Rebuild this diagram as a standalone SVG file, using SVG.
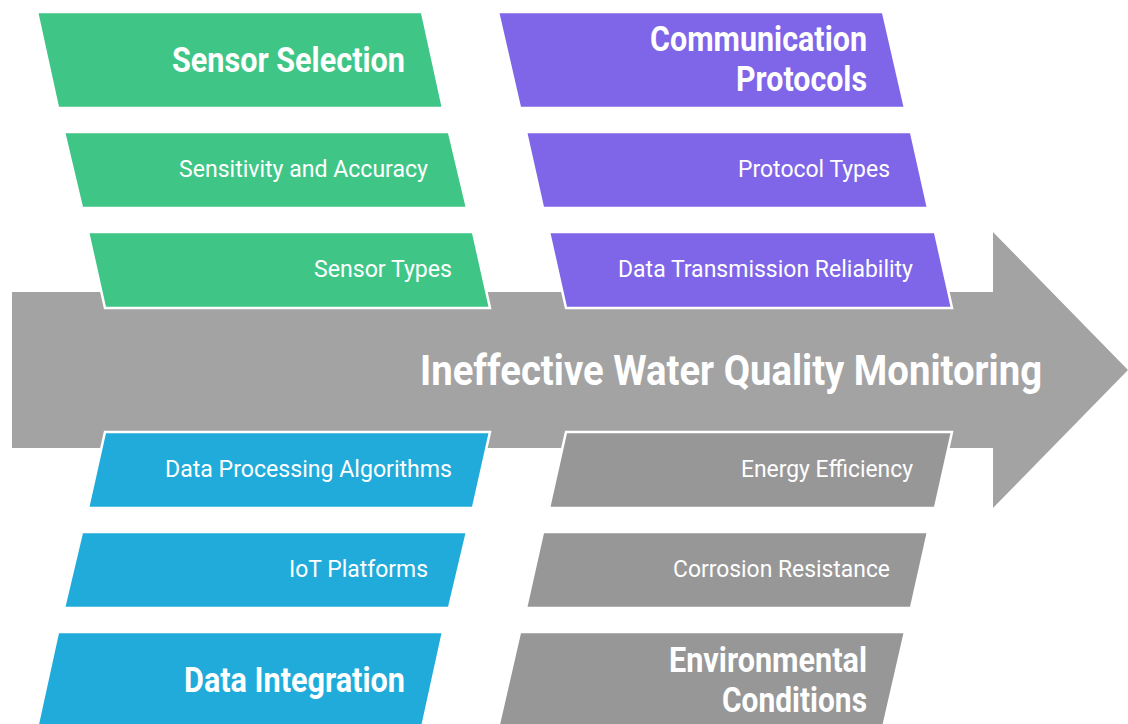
<svg xmlns="http://www.w3.org/2000/svg" width="1128" height="724" viewBox="0 0 1128 724">
  <style>
    .box { stroke: #ffffff; stroke-width: 2.5; stroke-linejoin: miter; }
    .green { fill: #3fc686; }
    .purple { fill: #7f65e8; }
    .blue { fill: #20abda; }
    .grey { fill: #979797; }
    .lbl { font-family: Roboto, "Liberation Sans", sans-serif; fill: #ffffff; text-anchor: end; }
    .title { font-size: 34.5px; font-weight: 700; }
    .item { font-size: 24.5px; font-weight: 400; }
    .main { font-size: 42px; font-weight: 700; }
  </style>
  <rect width="1128" height="724" fill="#ffffff"/>

  <!-- spine arrow -->
  <g id="spine">
    <polygon points="12,292 993,292 993,232 1128,370 993,508 993,448 12,448" fill="#a3a3a3"/>
    <text class="lbl main" x="1042" y="385" textLength="622" lengthAdjust="spacingAndGlyphs">Ineffective Water Quality Monitoring</text>
  </g>

  <g id="connectors"></g>

  <!-- upper left: sensor selection -->
  <g id="sensor-selection">
    <polygon class="box green" points="37,12 422,12 443,108 58,108"/>
    <text class="lbl title" x="405" y="72" textLength="233" lengthAdjust="spacingAndGlyphs">Sensor Selection</text>
  </g>
  <g id="sensitivity-accuracy">
    <polygon class="box green" points="64,132 449,132 467,208 82,208"/>
    <text class="lbl item" x="428" y="177" textLength="249" lengthAdjust="spacingAndGlyphs">Sensitivity and Accuracy</text>
  </g>
  <g id="sensor-types">
    <polygon class="box green" points="88,232 473,232 490,308 105,308"/>
    <text class="lbl item" x="452" y="277" textLength="138" lengthAdjust="spacingAndGlyphs">Sensor Types</text>
  </g>

  <!-- upper right: communication protocols -->
  <g id="communication-protocols">
    <polygon class="box purple" points="498,12 883,12 905,108 520,108"/>
    <text class="lbl title" x="867" y="51" textLength="217" lengthAdjust="spacingAndGlyphs">Communication</text>
    <text class="lbl title" x="867" y="91" textLength="131" lengthAdjust="spacingAndGlyphs">Protocols</text>
  </g>
  <g id="protocol-types">
    <polygon class="box purple" points="526,132 911,132 928,208 543,208"/>
    <text class="lbl item" x="890" y="177" textLength="152" lengthAdjust="spacingAndGlyphs">Protocol Types</text>
  </g>
  <g id="data-transmission">
    <polygon class="box purple" points="549,232 935,232 952,308 566,308"/>
    <text class="lbl item" x="913" y="277" textLength="295" lengthAdjust="spacingAndGlyphs">Data Transmission Reliability</text>
  </g>

  <!-- lower left: data integration -->
  <g id="data-processing">
    <polygon class="box blue" points="105,432 490,432 473,508 88,508"/>
    <text class="lbl item" x="452" y="477" textLength="287" lengthAdjust="spacingAndGlyphs">Data Processing Algorithms</text>
  </g>
  <g id="iot-platforms">
    <polygon class="box blue" points="82,532 467,532 449,608 64,608"/>
    <text class="lbl item" x="428" y="577" textLength="139" lengthAdjust="spacingAndGlyphs">IoT Platforms</text>
  </g>
  <g id="data-integration">
    <polygon class="box blue" points="58,632 443,632 422,728 37,728"/>
    <text class="lbl title" x="405" y="692" textLength="221" lengthAdjust="spacingAndGlyphs">Data Integration</text>
  </g>

  <!-- lower right: environmental conditions -->
  <g id="energy-efficiency">
    <polygon class="box grey" points="566,432 952,432 935,508 549,508"/>
    <text class="lbl item" x="913" y="477" textLength="172" lengthAdjust="spacingAndGlyphs">Energy Efficiency</text>
  </g>
  <g id="corrosion-resistance">
    <polygon class="box grey" points="543,532 928,532 911,608 526,608"/>
    <text class="lbl item" x="890" y="577" textLength="217" lengthAdjust="spacingAndGlyphs">Corrosion Resistance</text>
  </g>
  <g id="environmental-conditions">
    <polygon class="box grey" points="520,632 905,632 883,728 498,728"/>
    <text class="lbl title" x="867" y="672" textLength="198" lengthAdjust="spacingAndGlyphs">Environmental</text>
    <text class="lbl title" x="867" y="712" textLength="145" lengthAdjust="spacingAndGlyphs">Conditions</text>
  </g>
</svg>
